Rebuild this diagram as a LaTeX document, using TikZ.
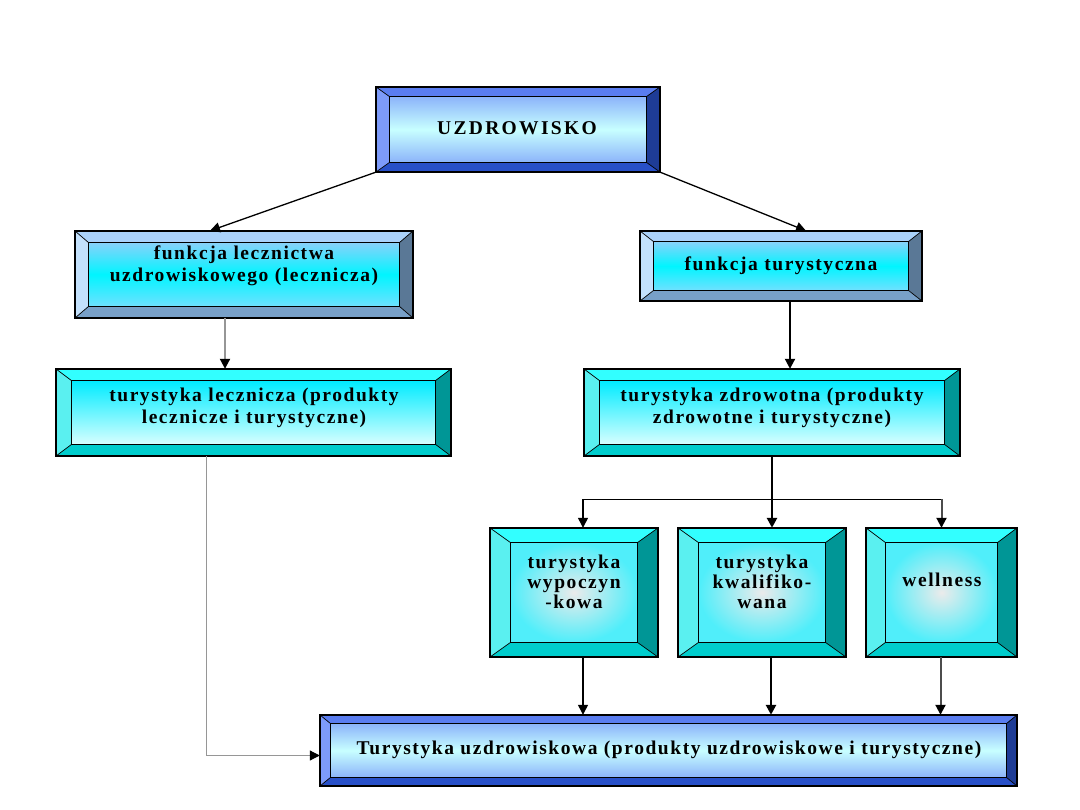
\documentclass[tikz,border=0pt]{standalone}
\usepackage{fontspec}
\setmainfont{Liberation Serif}[LetterSpace=8]
\usetikzlibrary{arrows.meta,fit,calc}
\definecolor{blueT}{RGB}{90,125,240}
\definecolor{blueL}{RGB}{125,155,250}
\definecolor{blueR}{RGB}{30,60,150}
\definecolor{blueB}{RGB}{40,80,200}
\definecolor{lightT}{RGB}{170,210,250}
\definecolor{lightL}{RGB}{195,225,252}
\definecolor{lightR}{RGB}{90,120,150}
\definecolor{lightB}{RGB}{120,160,200}
\definecolor{tealT}{RGB}{50,255,255}
\definecolor{tealL}{RGB}{90,240,240}
\definecolor{tealR}{RGB}{0,150,150}
\definecolor{tealB}{RGB}{0,205,205}
\definecolor{linegray}{RGB}{150,150,150}
\tikzset{
  shBlue/.style={top color={rgb,255:red,140;green,180;blue,250}, bottom color={rgb,255:red,140;green,180;blue,250}, middle color={rgb,255:red,200;green,255;blue,255}},
  shLight/.style={top color={rgb,255:red,135;green,210;blue,250}, bottom color={rgb,255:red,110;green,225;blue,255}, middle color={rgb,255:red,0;green,245;blue,255}},
  shTeal/.style={top color={rgb,255:red,0;green,235;blue,255}, bottom color={rgb,255:red,215;green,255;blue,255}},
  shSmall/.style={inner color={rgb,255:red,235;green,235;blue,235}, outer color={rgb,255:red,80;green,238;blue,250}},
  lbl/.style={font=\bfseries\fontsize{19.5}{22}\selectfont, align=center, inner sep=0pt},
  conn/.style={line width=1.3pt, -{Triangle[width=10pt,length=10pt,color=black]}},
  thickconn/.style={conn, line width=2.5pt},
  grayconn/.style={conn, draw=linegray, line width=2pt},
  thinconn/.style={conn, draw=linegray, line width=1pt},
}
\newcommand\bevelbox[7]{%
  \coordinate (#1-a) at (#2);
  \coordinate (#1-b) at (#3);
  \node[inner sep=0pt, fit=(#1-a)(#1-b)] (#1) {};
  \coordinate (#1-p) at ([xshift=#4pt,yshift=-#5pt]#1.north west);
  \coordinate (#1-q) at ([xshift=-#4pt,yshift=-#5pt]#1.north east);
  \coordinate (#1-r) at ([xshift=-#4pt,yshift=#5pt]#1.south east);
  \coordinate (#1-s) at ([xshift=#4pt,yshift=#5pt]#1.south west);
  \fill[#6T] (#1.north west) -- (#1.north east) -- (#1-q) -- (#1-p) -- cycle;
  \fill[#6R] (#1.north east) -- (#1.south east) -- (#1-r) -- (#1-q) -- cycle;
  \fill[#6B] (#1.south east) -- (#1.south west) -- (#1-s) -- (#1-r) -- cycle;
  \fill[#6L] (#1.south west) -- (#1.north west) -- (#1-p) -- (#1-s) -- cycle;
  \shade[#7] (#1-p) rectangle (#1-r);
  \draw[line width=0.7pt] (#1.north west) -- (#1-p) (#1.north east) -- (#1-q) (#1.south east) -- (#1-r) (#1.south west) -- (#1-s);
  \draw[line width=1pt] (#1-p) rectangle (#1-r);
  \draw[line width=1.5pt] (#1.north west) rectangle (#1.south east);
}
\begin{document}
\begin{tikzpicture}[x=1pt,y=-1pt]
\useasboundingbox[fill=white] (0,0) rectangle (1080,810);
\bevelbox{top}{376,87}{660,172}{14}{10}{blue}{shBlue}
\bevelbox{fl}{75,231}{413,318}{14}{12}{light}{shLight}
\bevelbox{ft}{640,231}{922,301}{14}{11}{light}{shLight}
\bevelbox{tl}{56,369}{451,456}{16}{12}{teal}{shTeal}
\bevelbox{tz}{584,369}{960,456}{16}{12}{teal}{shTeal}
\bevelbox{sa}{490,528}{658,657}{21}{15}{teal}{shSmall}
\bevelbox{sb}{678,528}{846,657}{21}{15}{teal}{shSmall}
\bevelbox{sc}{866,528}{1017,657}{20}{15}{teal}{shSmall}
\bevelbox{bt}{320,715}{1017,786}{11}{9}{blue}{shBlue}

\node[lbl, font=\bfseries\fontsize{19.5}{22}\selectfont\addfontfeature{LetterSpace=12}] (ttop) at (517,128) {UZDROWISKO};
\node[lbl] (tfl) at (244,266) {funkcja lecznictwa\\uzdrowiskowego (lecznicza)};
\node[lbl] (tft) at (781,266) {funkcja turystyczna};
\node[lbl] (ttl) at (254,408) {turystyka lecznicza (produkty\\lecznicze i turystyczne)};
\node[lbl] (ttz) at (772,408) {turystyka zdrowotna (produkty\\zdrowotne i turystyczne)};
\node[lbl, font=\bfseries\fontsize{19.5}{20}\selectfont] (tsa) at (574,582) {turystyka\\wypoczyn\\-kowa};
\node[lbl, font=\bfseries\fontsize{19.5}{20}\selectfont] (tsb) at (762,582) {turystyka\\kwalifiko-\\wana};
\node[lbl] (tsc) at (942,580) {wellness};
\node[lbl] (tbt) at (669,750) {Turystyka uzdrowiskowa (produkty uzdrowiskowe i turystyczne)};

\draw[conn] (top.south west) -- ([xshift=-34pt]fl.north);
\draw[conn] (top.south east) -- ([xshift=25pt]ft.north);
\draw[grayconn] ([xshift=-19pt]fl.south) -- ([xshift=-19pt]fl.south |- tl.north);
\draw[conn, line width=2pt] ([xshift=9pt]ft.south) -- ([xshift=9pt]ft.south |- tz.north);
\draw[thinconn] ([xshift=-47pt]tl.south) |- ([yshift=-5pt]bt.west);
\coordinate (br) at ($(tz.south)+(0,43)$);
\draw[thickconn] (tz.south) -- ([xshift=10pt]sb.north);
\draw[line width=1.3pt] ([xshift=9pt]sa.north |- br) -- (sc.north |- br);
\draw[conn] ([xshift=9pt]sa.north |- br) -- ([xshift=9pt]sa.north);
\draw[conn, draw=black!70, line width=2pt] (sc.north |- br) -- (sc.north);
\draw[conn] ([xshift=9pt]sa.south) -- ([xshift=9pt]sa.south |- bt.north);
\draw[thickconn] ([xshift=9pt]sb.south) -- ([xshift=9pt]sb.south |- bt.north);
\draw[conn, draw=black!70, line width=2pt] ([xshift=-1pt]sc.south) -- ([xshift=-1pt]sc.south |- bt.north);
\end{tikzpicture}
\end{document}
